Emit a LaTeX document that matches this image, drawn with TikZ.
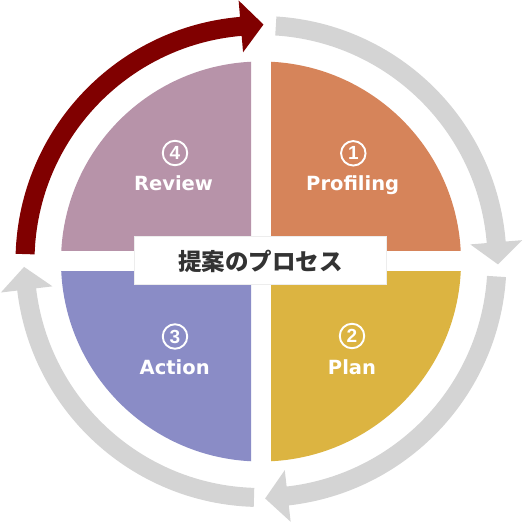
\documentclass[tikz,border=0pt]{standalone}
\usepackage{fontspec}
\setmainfont{DejaVu Sans}
\newfontfamily\jpfont{Noto Sans CJK JP}
\newfontfamily\numfont{Liberation Sans}
\definecolor{qorange}{HTML}{D6845A}
\definecolor{qyellow}{HTML}{DCB441}
\definecolor{qblue}{HTML}{8A8CC6}
\definecolor{qmauve}{HTML}{B793A9}
\definecolor{ringred}{HTML}{800000}
\definecolor{ringgray}{HTML}{D4D4D4}
\definecolor{txtdark}{HTML}{333333}
% #1 start angle, #2 base angle of head, #3 tip angle, #4 colour
\newcommand\ringarrow[4]{%
  \fill[#4] (#1:245.5) arc[start angle=#1, end angle=#2, radius=245.5]
    -- (#2:262) -- (#3:237) -- (#2:210) -- (#2:226.5)
    arc[start angle=#2, end angle=#1, radius=226.5] -- cycle;}
\tikzset{
  steplabel/.style={text=white, font=\bfseries\fontsize{19.5}{20}\selectfont, anchor=base, inner sep=0pt},
  numring/.style={circle, draw=white, line width=1.9pt, minimum size=24.5pt, inner sep=0pt,
    text=white, font=\numfont\bfseries\fontsize{19}{19}\selectfont},
  titlebox/.style={fill=white, draw=black!7, line width=1pt, minimum width=251pt, minimum height=48pt,
    inner sep=0pt, text=txtdark, font=\jpfont\bfseries\fontsize{23.5}{25}\selectfont}
}
\begin{document}
\begin{tikzpicture}[x=1pt,y=1pt]
\useasboundingbox (-261,-262.5) rectangle (262,261.5);
% quadrants
\begin{scope}
  \clip (10,10.5) rectangle (230,230);
  \fill[qorange] (0,0) circle[radius=200];
\end{scope}
\begin{scope}
  \clip (10,-10.5) rectangle (230,-230);
  \fill[qyellow] (0,0) circle[radius=200];
\end{scope}
\begin{scope}
  \clip (-10,-10.5) rectangle (-230,-230);
  \fill[qblue] (0,0) circle[radius=200];
\end{scope}
\begin{scope}
  \clip (-10,10.5) rectangle (-230,230);
  \fill[qmauve] (0,0) circle[radius=200];
\end{scope}
% ring arrows
\ringarrow{178.2}{94.9}{89.4}{ringred}
\ringarrow{86.4}{4.67}{-0.7}{ringgray}
\ringarrow{-3.64}{-83.5}{-89.0}{ringgray}
\ringarrow{-91.7}{-173.2}{-178.7}{ringgray}
% labels
\node[numring] (n1) at (92.3,108.2) {1};
\node[steplabel] (l1) at (91.7,70.5) {Profiling};
\node[numring] (n2) at (91,-74.5) {2};
\node[steplabel] (l2) at (91,-112.5) {Plan};
\node[numring] (n3) at (-86,-75) {3};
\node[steplabel] (l3) at (-86.3,-112.5) {Action};
\node[numring] (n4) at (-86,108.5) {4};
\node[steplabel] (l4) at (-87.5,70.5) {Review};
% title
\node[titlebox] (title) at (-0.5,0.5) {提案のプロセス};
\end{tikzpicture}
\end{document}
